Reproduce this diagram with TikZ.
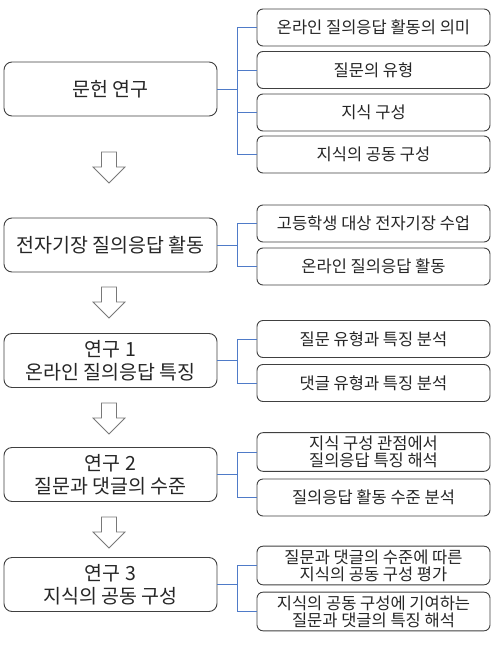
\documentclass[tikz,border=0pt]{standalone}
\usepackage{fontspec}
\setmainfont{Noto Sans CJK KR}
\usepackage{tikz}
\usetikzlibrary{positioning, calc}
\definecolor{boxline}{RGB}{64,64,64}
\definecolor{txtdark}{RGB}{38,38,38}
\definecolor{linkblue}{RGB}{79,123,200}
\definecolor{arrgray}{RGB}{120,120,120}
\tikzset{
  mainbox/.style={rectangle, draw=boxline, fill=white, text=txtdark,
    minimum width=213pt, minimum height=54pt, align=center,
    font=\fontsize{19.5}{23}\selectfont, rounded corners=8pt, line width=0.9pt},
  subbox/.style={rectangle, draw=boxline, fill=white, text=txtdark,
    minimum width=233pt, minimum height=37pt, align=center,
    font=\fontsize{16.5}{17}\selectfont, rounded corners=6pt, line width=0.9pt},
  link/.style={line width=0.9pt, color=linkblue},
  hollowarrow/.style={draw=arrgray, fill=white, line width=0.8pt, line join=miter},
  downarr/.pic={
    \draw[hollowarrow] (-7.5,0) -- (7.5,0) -- (7.5,15) -- (16,15) -- (0,31)
      -- (-16,15) -- (-7.5,15) -- cycle;}
}
\begin{document}
\begin{tikzpicture}[x=1pt, y=-1pt]
  \useasboundingbox (0,0) rectangle (493,656);

  % left column
  \node[mainbox] (lit) at (110.5, 89) {문헌 연구};
  \node[mainbox] (act) at (110.5, 245) {전자기장 질의응답 활동};
  \node[mainbox] (st1) at (110.5, 360.5) {연구 1\\온라인 질의응답 특징};
  \node[mainbox] (st2) at (110.5, 474.5) {연구 2\\질문과 댓글의 수준};
  \node[mainbox] (st3) at (110.5, 584.5) {연구 3\\지식의 공동 구성};

  % right column
  \node[subbox] (lit1) at (373.5, 27.5) {온라인 질의응답 활동의 의미};
  \node[subbox] (lit2) at (373.5, 70) {질문의 유형};
  \node[subbox] (lit3) at (373.5, 112.5) {지식 구성};
  \node[subbox] (lit4) at (373.5, 154.5) {지식의 공동 구성};
  \node[subbox] (act1) at (373.5, 223.5) {고등학생 대상 전자기장 수업};
  \node[subbox] (act2) at (373.5, 266.5) {온라인 질의응답 활동};
  \node[subbox] (st1a) at (373.5, 339) {질문 유형과 특징 분석};
  \node[subbox] (st1b) at (373.5, 383) {댓글 유형과 특징 분석};
  \node[subbox] (st2a) at (373.5, 452) {지식 구성 관점에서\\질의응답 특징 해석};
  \node[subbox] (st2b) at (373.5, 497.5) {질의응답 활동 수준 분석};
  \node[subbox] (st3a) at (373.5, 565.5) {질문과 댓글의 수준에 따른\\지식의 공동 구성 평가};
  \node[subbox] (st3b) at (373.5, 611.5) {지식의 공동 구성에 기여하는\\질문과 댓글의 특징 해석};

  % flow arrows
  \pic at (109, 152) {downarr};
  \pic at (109, 287) {downarr};
  \pic at (109, 403) {downarr};
  \pic at (109, 517) {downarr};

  % Paths
  \foreach \src/\dst in {lit/lit1, lit/lit2, lit/lit3, lit/lit4,
                         act/act1, act/act2, st1/st1a, st1/st1b,
                         st2/st2a, st2/st2b, st3/st3a, st3/st3b}
    \draw[link] (\src.east) -- ++(20,0) |- (\dst.west);
\end{tikzpicture}
\end{document}
